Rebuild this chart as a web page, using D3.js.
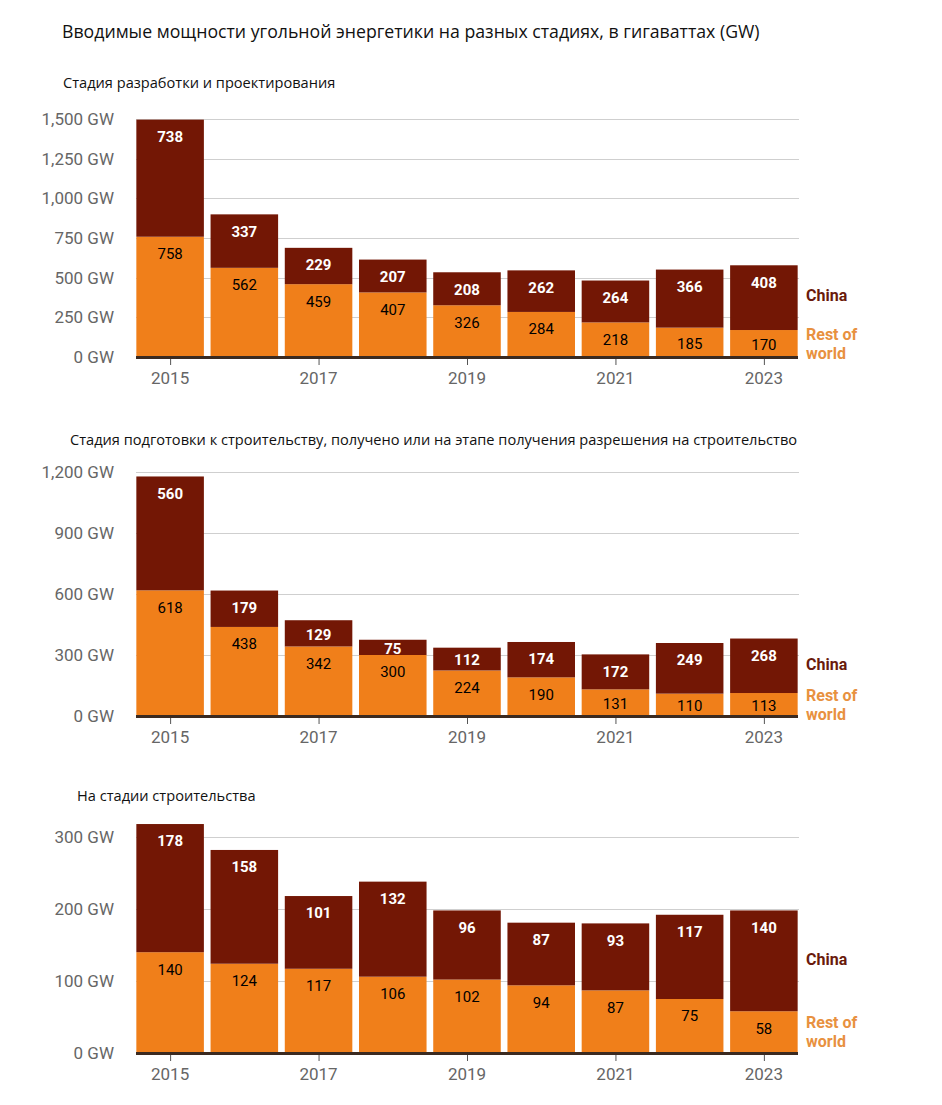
<!DOCTYPE html>
<html><head><meta charset="utf-8">
<script src="https://cdn.jsdelivr.net/npm/d3@7"></script>
<style>
body{margin:0;background:#fff;}
svg{display:block;}
</style></head>
<body>
<svg id="chart" width="942" height="1105"></svg>
<script>
const years = [2015, 2016, 2017, 2018, 2019, 2020, 2021, 2022, 2023];
const tickYears = [2015, 2017, 2019, 2021, 2023];

const title = "Вводимые мощности угольной энергетики на разных стадиях, в гигаваттах (GW)";
const seriesNames = ["China", "Rest of world"];

const p1Title = "Стадия разработки и проектирования";
const p1China = [738, 337, 229, 207, 208, 262, 264, 366, 408];
const p1Rest  = [758, 562, 459, 407, 326, 284, 218, 185, 170];
const p1Ticks = [0, 250, 500, 750, 1000, 1250, 1500];

const p2Title = "Стадия подготовки к строительству, получено или на этапе получения разрешения на\u00A0строительство";
const p2China = [560, 179, 129, 75, 112, 174, 172, 249, 268];
const p2Rest  = [618, 438, 342, 300, 224, 190, 131, 110, 113];
const p2Ticks = [0, 300, 600, 900, 1200];

const p3Title = "На стадии строительства";
const p3China = [178, 158, 101, 132, 96, 87, 93, 117, 140];
const p3Rest  = [140, 124, 117, 106, 102, 94, 87, 75, 58];
const p3Ticks = [0, 100, 200, 300];

const colChina = "#731705", colRest = "#f07f1a";
const svg = d3.select("#chart");
const fmt = d3.format(",");

svg.append("text").attr("x", 62).attr("y", 38)
  .attr("font-family", "Open Sans").attr("font-size", 17.7).attr("fill", "#111")
  .text(title);

const x = d3.scaleBand().domain(years).range([133, 801]).paddingInner(0.09).paddingOuter(0.045);

function panel(cfg) {
  const {sub, subX, subY, china, rest, ticks, y0, y1} = cfg;
  const g = svg.append("g");
  g.append("text").attr("x", subX).attr("y", subY)
    .attr("font-family", "Open Sans").attr("font-size", 14.6).attr("fill", "#111")
    .text(sub);
  const y = d3.scaleLinear().domain([0, d3.max(ticks)]).range([y0, y1]);
  g.selectAll(".grid").data(ticks.filter(t => t > 0)).join("line")
    .attr("x1", 136).attr("x2", 799)
    .attr("y1", d => Math.round(y(d)) + 0.5).attr("y2", d => Math.round(y(d)) + 0.5)
    .attr("stroke", "#cfcfcf").attr("stroke-width", 1.2);
  g.selectAll(".yl").data(ticks).join("text")
    .attr("x", 114).attr("y", d => y(d)).attr("dy", "0.36em")
    .attr("text-anchor", "end").attr("font-family", "Roboto").attr("font-size", 17)
    .attr("fill", "#666").text(d => fmt(d) + " GW");
  const data = years.map((yr, i) => ({yr, c: china[i], r: rest[i]}));
  g.selectAll(".rb").data(data).join("rect")
    .attr("x", d => x(d.yr)).attr("width", x.bandwidth())
    .attr("y", d => y(d.r)).attr("height", d => y(0) - y(d.r)).attr("fill", colRest);
  g.selectAll(".cb").data(data).join("rect")
    .attr("x", d => x(d.yr)).attr("width", x.bandwidth())
    .attr("y", d => y(d.r + d.c)).attr("height", d => y(d.r) - y(d.r + d.c)).attr("fill", colChina);
  const lab = (top, h) => top + Math.min(17, h / 2 + 1);
  g.selectAll(".cl").data(data).join("text")
    .attr("x", d => x(d.yr) + x.bandwidth() / 2)
    .attr("y", d => lab(y(d.r + d.c), y(d.r) - y(d.r + d.c))).attr("dy", "0.36em")
    .attr("text-anchor", "middle").attr("font-family", "Roboto").attr("font-weight", "bold")
    .attr("font-size", 15).attr("fill", "#fff").text(d => d.c);
  g.selectAll(".rl").data(data).join("text")
    .attr("x", d => x(d.yr) + x.bandwidth() / 2)
    .attr("y", d => lab(y(d.r), y(0) - y(d.r))).attr("dy", "0.36em")
    .attr("text-anchor", "middle").attr("font-family", "Roboto").attr("font-weight", 400)
    .attr("font-size", 15).attr("fill", "#000").text(d => d.r);
  g.append("rect").attr("x", 136).attr("width", 662).attr("y", y(0) - 1).attr("height", 3).attr("fill", "#3b2a20");
  g.selectAll(".xt").data(tickYears).join("line")
    .attr("x1", d => x(d) + x.bandwidth() / 2 + 0.5).attr("x2", d => x(d) + x.bandwidth() / 2 + 0.5)
    .attr("y1", y(0) + 2).attr("y2", y(0) + 8).attr("stroke", "#555").attr("stroke-width", 1);
  g.selectAll(".xl").data(tickYears).join("text")
    .attr("x", d => x(d) + x.bandwidth() / 2).attr("y", y(0) + 21).attr("dy", "0.36em")
    .attr("text-anchor", "middle").attr("font-family", "Roboto").attr("font-size", 17)
    .attr("fill", "#666").text(d => d);
  const last = data[data.length - 1];
  const lx = 806;
  const cMid = (y(last.r) + y(last.r + last.c)) / 2 - 2;
  const rMid = (y(0) + y(last.r)) / 2;
  g.append("text").attr("x", lx).attr("y", cMid).attr("dy", "0.36em")
    .attr("font-family", "Roboto").attr("font-weight", "bold").attr("font-size", 16)
    .attr("fill", "#6a1a0c").text(seriesNames[0]);
  const rt = g.append("text").attr("font-family", "Roboto").attr("font-weight", "bold")
    .attr("font-size", 16).attr("fill", "#e8913f");
  rt.append("tspan").attr("x", lx).attr("y", rMid - 9.5).attr("dy", "0.36em").text("Rest of");
  rt.append("tspan").attr("x", lx).attr("y", rMid + 9.5).attr("dy", "0.36em").text("world");
}

panel({sub: p1Title, subX: 63, subY: 88, china: p1China, rest: p1Rest, ticks: p1Ticks, y0: 357, y1: 119});
panel({sub: p2Title, subX: 70, subY: 445, china: p2China, rest: p2Rest, ticks: p2Ticks, y0: 716, y1: 472});
panel({sub: p3Title, subX: 77, subY: 801, china: p3China, rest: p3Rest, ticks: p3Ticks, y0: 1053, y1: 837});
</script>
</body></html>
